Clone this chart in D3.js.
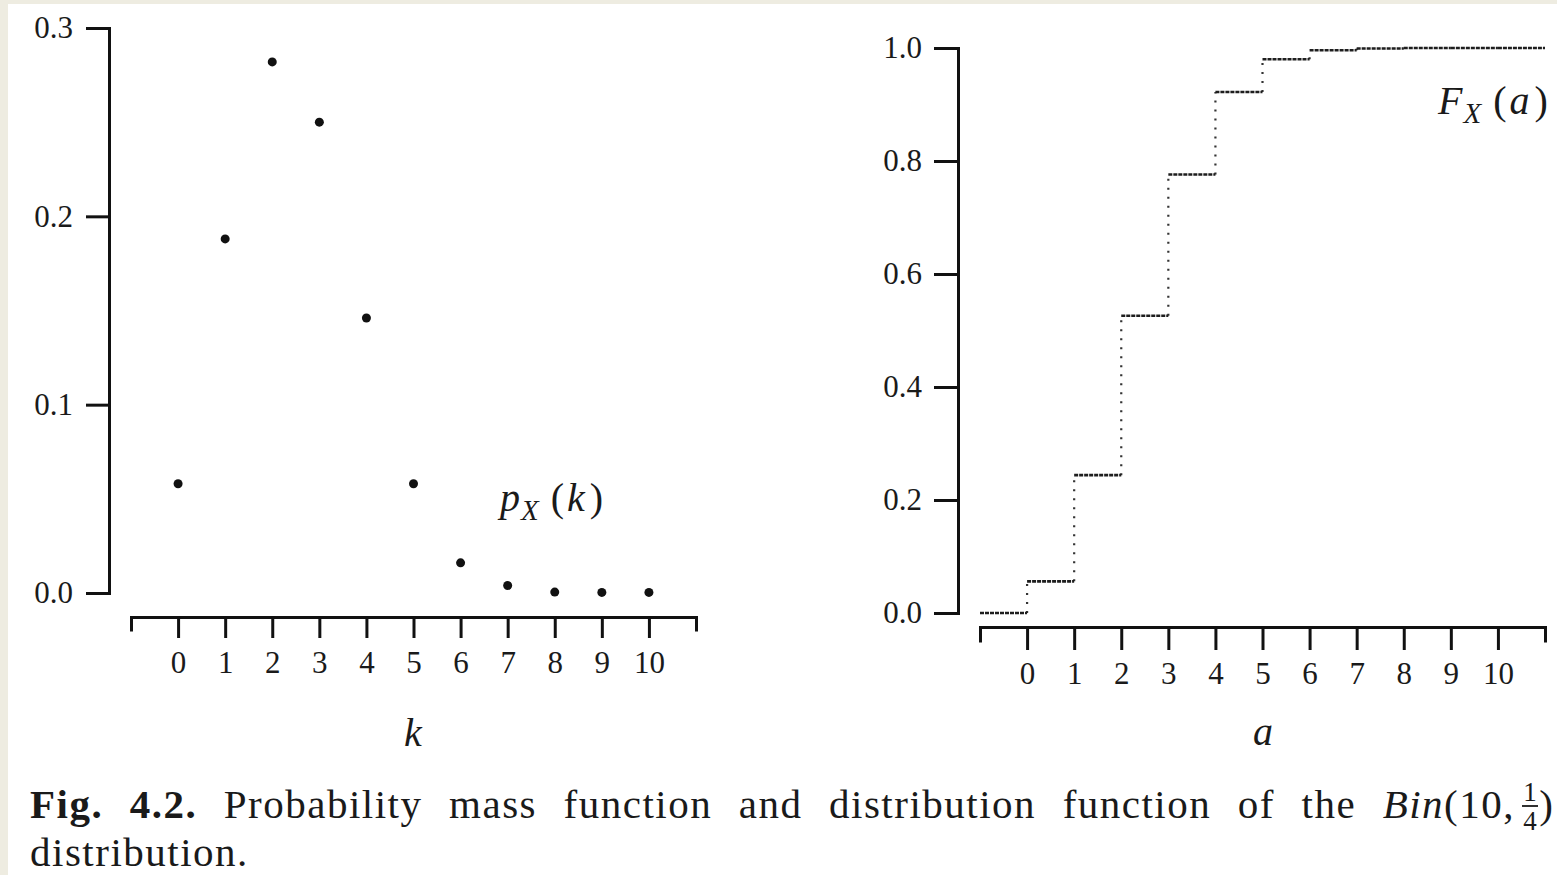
<!DOCTYPE html>
<html>
<head>
<meta charset="utf-8">
<script src="https://cdn.jsdelivr.net/npm/d3@7"></script>
<style>
  body { margin: 0; background: #eeece1; }
  svg { display: block; }
</style>
</head>
<body>
<svg id="fig"></svg>
<script>
const W = 1557, H = 875;
const serif = "Liberation Serif, Times New Roman, Times, serif";

// values
const kValues = [0, 1, 2, 3, 4, 5, 6, 7, 8, 9, 10];
const pmf = [0.058, 0.188, 0.282, 0.250, 0.146, 0.058, 0.016, 0.004, 0.0005, 0.0003, 0.0003];
const stepStarts = [-1, 0, 1, 2, 3, 4, 5, 6, 7, 8, 9, 10];
const cdf = [0, 0.056, 0.244, 0.526, 0.776, 0.922, 0.980, 0.996, 0.999, 1.0, 1.0, 1.0];
const leftYTicks = [0, 0.1, 0.2, 0.3];
const rightYTicks = [0, 0.2, 0.4, 0.6, 0.8, 1.0];
const xTicks = kValues;

const svg = d3.select('#fig')
  .attr('width', W)
  .attr('height', H)

svg.append('rect').attr('width', W).attr('height', H).attr('fill', '#eeece1')
svg.append('rect')
  .attr('x', 8).attr('y', 4)
  .attr('width', W - 8).attr('height', H - 4)
  .attr('fill', '#fff')

const xL = d3.scaleLinear().domain([-1, 11]).range([131, 696]);
const yL = d3.scaleLinear().domain([0, 0.3]).range([593, 28]);
const xR = d3.scaleLinear().domain([-1, 11]).range([980, 1545]);
const yR = d3.scaleLinear().domain([0, 1]).range([613, 48]);

function styleAxis(g) {
  g.attr('font-family', serif).attr('font-size', 31)
  g.selectAll('path, line').attr('stroke', '#111').attr('stroke-width', 3)
  g.select('.domain').attr('stroke-linecap', 'square')
  g.selectAll('text').attr('fill', '#1a1a1a')
}

// left panel axes
svg.append('g')
  .attr('transform', 'translate(109,0)')
  .call(d3.axisLeft(yL).tickValues(leftYTicks).tickFormat(d3.format('.1f'))
    .tickSize(23).tickSizeOuter(0).tickPadding(13))
  .call(styleAxis)

svg.append('g')
  .attr('transform', 'translate(0,617)')
  .call(d3.axisBottom(xL).tickValues(xTicks).tickSize(21).tickSizeOuter(13).tickPadding(13))
  .call(styleAxis)

// right panel axes
svg.append('g')
  .attr('transform', 'translate(958,0)')
  .call(d3.axisLeft(yR).tickValues(rightYTicks).tickFormat(d3.format('.1f'))
    .tickSize(24).tickSizeOuter(0).tickPadding(12))
  .call(styleAxis)

svg.append('g')
  .attr('transform', 'translate(0,627)')
  .call(d3.axisBottom(xR).tickValues(xTicks).tickSize(23).tickSizeOuter(14).tickPadding(12))
  .call(styleAxis)

// pmf dots
svg.append('g').selectAll('circle')
  .data(pmf)
  .enter()
  .append('circle')
  .attr('cx', (d, i) => xL(kValues[i]))
  .attr('cy', d => yL(d))
  .attr('r', 4.5)
  .attr('fill', '#111')

// distribution function: dashed flats, dotted jumps
const flats = stepStarts.map((s, i) => ({ x0: s, x1: i < stepStarts.length - 1 ? stepStarts[i + 1] : 11, y: cdf[i] }));
const jumps = stepStarts.slice(1).map((s, i) => ({ x: s, y0: cdf[i], y1: cdf[i + 1] }));

svg.append('g').selectAll('line')
  .data(jumps)
  .enter()
  .append('line')
  .attr('x1', d => xR(d.x)).attr('x2', d => xR(d.x))
  .attr('y1', d => yR(d.y0)).attr('y2', d => yR(d.y1))
  .attr('stroke', '#333')
  .attr('stroke-width', 2.2)
  .attr('stroke-dasharray', '2,7')

svg.append('g').selectAll('line')
  .data(flats)
  .enter()
  .append('line')
  .attr('x1', d => xR(d.x0)).attr('x2', d => xR(d.x1))
  .attr('y1', d => yR(d.y)).attr('y2', d => yR(d.y))
  .attr('stroke', '#1e1e1e')
  .attr('stroke-width', 2.6)
  .attr('stroke-dasharray', '4,1')

// math labels
function mathLabel(x, y, sym, arg) {
  const t = svg.append('text')
    .attr('x', x).attr('y', y)
    .attr('font-family', serif).attr('font-size', 40).attr('fill', '#1a1a1a')
  t.append('tspan').attr('font-style', 'italic').text(sym)
  t.append('tspan').attr('font-style', 'italic').attr('font-size', 29).attr('dy', 9).attr('dx', 1).text('X')
  t.append('tspan').attr('dy', -9).attr('dx', 12).text('(')
  t.append('tspan').attr('font-style', 'italic').attr('dx', 3).text(arg)
  t.append('tspan').attr('dx', 5).text(')')
}
mathLabel(500, 511, 'p', 'k')
mathLabel(1438, 114, 'F', 'a')

svg.append('text')
  .attr('x', 413).attr('y', 746).attr('text-anchor', 'middle')
  .attr('font-family', serif).attr('font-size', 40).attr('font-style', 'italic')
  .attr('fill', '#1a1a1a').text('k')
svg.append('text')
  .attr('x', 1263).attr('y', 745).attr('text-anchor', 'middle')
  .attr('font-family', serif).attr('font-size', 40).attr('font-style', 'italic')
  .attr('fill', '#1a1a1a').text('a')

// caption, justified first line
const capLeft = 30, capRight = 1553;
const line1 = svg.append('text')
  .attr('x', capLeft).attr('y', 818)
  .attr('font-family', serif).attr('font-size', 41)
  .attr('letter-spacing', 1.5).attr('fill', '#1a1a1a')
line1.append('tspan').attr('font-weight', 'bold').text('Fig. 4.2.')
line1.append('tspan').text(' Probability mass function and distribution function of the ')
line1.append('tspan').attr('font-style', 'italic').text('Bin')
line1.append('tspan').text('(10,')

const paren = svg.append('text')
  .attr('x', capRight).attr('y', 818).attr('text-anchor', 'end')
  .attr('font-family', serif).attr('font-size', 41).attr('fill', '#1a1a1a')
  .text(')')
const fracX = capRight - 14 - 9;
const frac = svg.append('g').attr('font-family', serif).attr('font-size', 27)
  .attr('fill', '#1a1a1a').attr('text-anchor', 'middle')
frac.append('text').attr('x', fracX).attr('y', 801).text('1')
frac.append('text').attr('x', fracX).attr('y', 830).text('4')
frac.append('line')
  .attr('x1', fracX - 8).attr('x2', fracX + 8)
  .attr('y1', 806).attr('y2', 806)
  .attr('stroke', '#1a1a1a').attr('stroke-width', 1.8)

const natural = line1.node().getComputedTextLength();
const target = (fracX - 8 - 7) - capLeft;
const gaps = 10;
line1.attr('word-spacing', (target - natural) / gaps)

svg.append('text')
  .attr('x', capLeft).attr('y', 866)
  .attr('font-family', serif).attr('font-size', 41)
  .attr('letter-spacing', 1.5).attr('fill', '#1a1a1a')
  .text('distribution.')
</script>
</body>
</html>
